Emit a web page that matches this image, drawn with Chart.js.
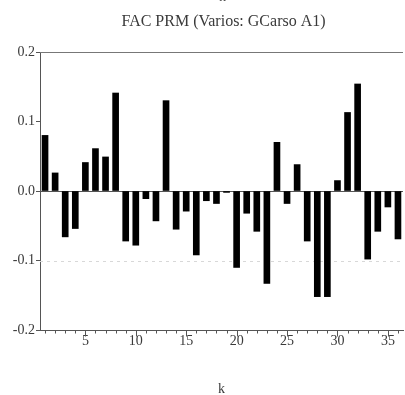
<!DOCTYPE html>
<html lang="en">
<head>
    <meta charset="UTF-8">
    <script src="https://cdn.jsdelivr.net/npm/chart.js"></script>
    <style>
        body{ margin:0; background:#fff; }
        .box{ position:relative; width:405px; height:395px; overflow:hidden; }
        .topk{ position:absolute; left:219px; top:-10px; font:14px "Liberation Serif", serif; color:#555; line-height:14px; }
    </style>
    <title>FAC PRM</title>
</head>
<body>
    <div class="box">
        <canvas id="myChart" width="405" height="395"></canvas>
        <div class="topk">k</div>
    </div>

    <script>
        // lags 1..36
        const lags = [];
        for (let i = 1; i <= 36; i++) lags.push(i);

        // partial autocorrelation values
        const pacf = [
            0.080, 0.026, -0.066, -0.054, 0.041, 0.061, 0.049, 0.141, -0.072, -0.078,
            -0.011, -0.043, 0.130, -0.055, -0.029, -0.092, -0.014, -0.018, -0.002, -0.110,
            -0.032, -0.058, -0.133, 0.070, -0.018, 0.038, -0.072, -0.152, -0.152, 0.015,
            0.113, 0.154, -0.098, -0.058, -0.023, -0.069
        ];

        const yTicks = [-0.2, -0.1, 0.0, 0.1, 0.2];
        const chartTitle = 'FAC PRM (Varios: GCarso A1)';

        const serif = '"Liberation Serif", "Times New Roman", serif';
        const textColor = '#3a3a3a';

        // title over the plot, zero line, dotted -0.1 line and the lag tick marks
        const extras = {
            id: 'extras',
            beforeDatasetsDraw: (chart) => {
                const ctx = chart.ctx;
                const x = chart.scales.x, y = chart.scales.y;
                const a = chart.chartArea;
                ctx.save();
                // title centred on the plot area
                ctx.fillStyle = textColor;
                ctx.font = '16px ' + serif;
                ctx.textAlign = 'center';
                ctx.textBaseline = 'middle';
                ctx.fillText(chartTitle, (a.left + a.right) / 2 + 2, 22);
                // dotted line at -0.1
                ctx.strokeStyle = '#d8d8d8';
                ctx.lineWidth = 1;
                ctx.setLineDash([3, 4]);
                let py = Math.round(y.getPixelForValue(-0.1)) + 0.5;
                ctx.beginPath(); ctx.moveTo(a.left, py); ctx.lineTo(a.right, py); ctx.stroke();
                ctx.setLineDash([]);
                // zero line
                ctx.strokeStyle = '#555';
                py = Math.round(y.getPixelForValue(0)) + 0.5;
                ctx.beginPath(); ctx.moveTo(a.left, py); ctx.lineTo(a.right, py); ctx.stroke();
                // top border
                ctx.strokeStyle = '#777';
                py = Math.round(a.top) + 0.5;
                ctx.beginPath(); ctx.moveTo(a.left, py); ctx.lineTo(a.right, py); ctx.stroke();
                // x ticks, long every 5
                ctx.strokeStyle = '#555';
                const by = Math.round(a.bottom) + 0.5;
                lags.forEach((k, i) => {
                    const px = Math.round(x.getPixelForValue(i)) + 0.5;
                    const len = (k % 5 === 0) ? 6 : 3;
                    ctx.beginPath(); ctx.moveTo(px, by); ctx.lineTo(px, by + len); ctx.stroke();
                });
                ctx.restore();
            }
        };

        const config = {
            type: 'bar',
            data: {
                labels: lags,
                datasets: [{
                    data: pacf,
                    backgroundColor: '#000',
                    borderWidth: 0,
                    barThickness: 6
                }]
            },
            plugins: [extras],
            options: {
                responsive: false,
                animation: false,
                devicePixelRatio: 1,
                layout: { padding: { top: 52, right: 2 } },
                plugins: {
                    legend: { display: false },
                    tooltip: { enabled: false },
                    title: { display: false }
                },
                scales: {
                    x: {
                        type: 'category',
                        offset: true,
                        grid: { display: false, drawTicks: false },
                        border: { display: true, color: '#555' },
                        ticks: {
                            autoSkip: false,
                            maxRotation: 0,
                            padding: 3,
                            color: textColor,
                            font: { family: serif, size: 14 },
                            callback: function(v, i) { return (lags[i] % 5 === 0) ? String(lags[i]) : ''; }
                        },
                        title: {
                            display: true,
                            text: 'k',
                            color: textColor,
                            font: { family: serif, size: 14, lineHeight: 1 },
                            padding: { top: 0, bottom: -1 }
                        },
                        afterFit: (s) => { s.height = 65; }
                    },
                    y: {
                        min: -0.2,
                        max: 0.2,
                        afterBuildTicks: (s) => { s.ticks = yTicks.map(v => ({ value: v })); },
                        grid: { drawOnChartArea: false, tickLength: 4, color: '#555' },
                        border: { display: true, color: '#555' },
                        ticks: {
                            padding: 1,
                            color: textColor,
                            font: { family: serif, size: 14 },
                            callback: (v) => v.toFixed(1)
                        },
                        afterFit: (s) => { s.width = 40; }
                    }
                }
            }
        };

        new Chart(document.getElementById('myChart').getContext('2d'), config);
    </script>
</body>
</html>
